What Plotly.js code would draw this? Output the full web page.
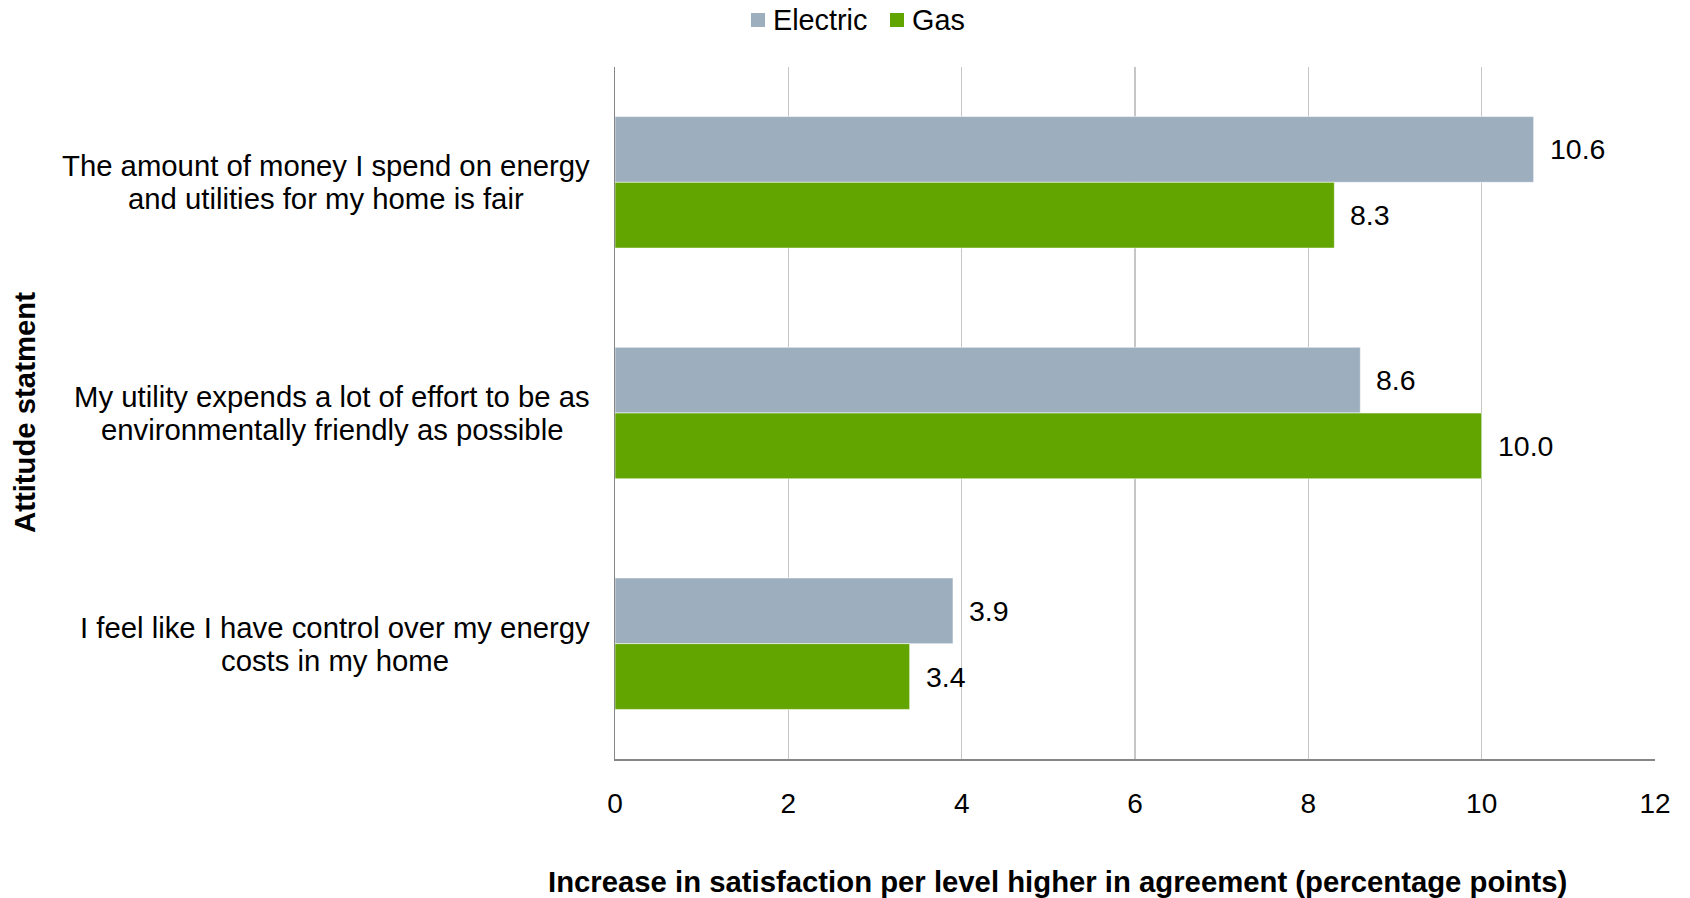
<!DOCTYPE html>
<html>
<head>
<meta charset="utf-8">
<script src="https://cdn.plot.ly/plotly-3.0.1.min.js"></script>
<style>
  html, body { margin: 0; padding: 0; background: #ffffff; }
  #chart { width: 1690px; height: 898px; }
</style>
</head>
<body>
<div id="chart"></div>
<script>
// Attitude statements (each shown on two centred lines)
const statements = [
  ["The amount of money I spend on energy", "and utilities for my home is fair"],
  ["My utility expends a lot of effort to be as", "environmentally friendly as possible"],
  ["I feel like I have control over my energy", "costs in my home"]
];
const seriesNames = ["Electric", "Gas"];
const electricValues = [10.6, 8.6, 3.9];
const gasValues = [8.3, 10.0, 3.4];
const xTickValues = [0, 2, 4, 6, 8, 10, 12];

const FONT = "Liberation Sans, Arial, sans-serif";
const BAR_GAP = 0.43;
const colors = { Electric: "#9dafbf", Gas: "#62a400" };

// plot area in pixels (margins) and a helper to turn pixel positions into paper fractions
const W = 1690, H = 898;
const M = { l: 615, r: 35, t: 67, b: 139 };
const px2paperX = p => (p - M.l) / (W - M.l - M.r);
const px2paperY = p => (H - M.b - p) / (H - M.t - M.b);

// text width measurement, used to centre each two-line label block
const measureCtx = document.createElement("canvas").getContext("2d");
function textWidth(str, size) {
  measureCtx.font = size + "px " + FONT;
  return measureCtx.measureText(str).width;
}

const categories = statements.map(s => s.join(" "));

const traces = [
  { name: seriesNames[0], values: electricValues },
  { name: seriesNames[1], values: gasValues }
].map(s => ({
  type: "bar",
  orientation: "h",
  name: s.name,
  x: s.values,
  y: categories,
  marker: { color: colors[s.name], line: { color: "rgba(255,255,255,0.55)", width: 1 } },
  hoverinfo: "x+name",
  showlegend: false
}));

const annotations = [];
const shapes = [];

// value labels to the right of each bar, centred on the bar within its group
const halfBar = (1 - BAR_GAP) / 4;
[electricValues, gasValues].forEach((vals, si) => {
  vals.forEach((v, ci) => {
    annotations.push({
      x: v, y: ci + (si === 0 ? -halfBar : halfBar),
      xref: "x", yref: "y",
      text: v.toFixed(1),
      showarrow: false, xanchor: "left", yanchor: "middle",
      xshift: 14,
      font: { family: FONT, size: 28.5, color: "#000000" }
    });
  });
});

// category labels: block right-aligned to the axis, lines centred within the block
const CAT_SIZE = 29.3;
const LINE_STEP = 33;
const LABEL_GAP = 25;
statements.forEach((lines, ci) => {
  const blockW = Math.max(...lines.map(l => textWidth(l, CAT_SIZE)));
  lines.forEach((line, li) => {
    annotations.push({
      x: 0, y: ci, xref: "paper", yref: "y",
      text: line,
      showarrow: false, xanchor: "center", yanchor: "middle", align: "center",
      xshift: -LABEL_GAP - blockW / 2,
      yshift: (li === 0 ? 1 : -1) * LINE_STEP / 2,
      font: { family: FONT, size: CAT_SIZE, color: "#000000" }
    });
  });
});

// axis titles
annotations.push({
  x: px2paperX(24), y: 0.5, xref: "paper", yref: "paper",
  text: "<b>Attitude statment</b>", textangle: -90,
  showarrow: false, xanchor: "center", yanchor: "middle",
  font: { family: FONT, size: 29.3, color: "#000000" }
});
annotations.push({
  x: px2paperX(1057), y: px2paperY(881), xref: "paper", yref: "paper",
  text: "<b>Increase in satisfaction per level higher in agreement (percentage points)</b>",
  showarrow: false, xanchor: "center", yanchor: "middle",
  font: { family: FONT, size: 29.3, color: "#000000" }
});

// legend: coloured squares with series names, centred above the plot
const legendItems = [
  { name: seriesNames[0], box: [751, 765], textX: 772 },
  { name: seriesNames[1], box: [890, 904], textX: 911 }
];
const LEGEND_Y = 20;
legendItems.forEach(it => {
  shapes.push({
    type: "rect", xref: "paper", yref: "paper",
    x0: px2paperX(it.box[0]), x1: px2paperX(it.box[1]),
    y0: px2paperY(LEGEND_Y + 7), y1: px2paperY(LEGEND_Y - 7),
    fillcolor: colors[it.name], line: { width: 0 }
  });
  annotations.push({
    x: px2paperX(it.textX), y: px2paperY(LEGEND_Y), xref: "paper", yref: "paper",
    text: it.name, showarrow: false, xanchor: "left", yanchor: "middle",
    borderpad: 0,
    font: { family: FONT, size: 28.8, color: "#000000" }
  });
});

const layout = {
  width: W, height: H,
  paper_bgcolor: "#ffffff", plot_bgcolor: "#ffffff",
  margin: { l: M.l, r: M.r, t: M.t, b: M.b, pad: 0 },
  barmode: "group", bargap: BAR_GAP, bargroupgap: 0,
  font: { family: FONT, size: 28, color: "#000000" },
  showlegend: false,
  xaxis: {
    range: [0, 12], tickvals: xTickValues, ticktext: xTickValues.map(String),
    showgrid: true, gridcolor: "#c6c6c6", gridwidth: 1.5,
    zeroline: false, showline: true, linecolor: "#868686", linewidth: 1.5,
    ticks: "", ticklabelstandoff: 19,
    tickfont: { family: FONT, size: 28, color: "#000000" }
  },
  yaxis: {
    type: "category", categoryorder: "array", categoryarray: categories,
    autorange: "reversed",
    showgrid: false, zeroline: false, showline: true, linecolor: "#868686", linewidth: 1.5,
    showticklabels: false, ticks: ""
  },
  shapes: shapes,
  annotations: annotations
};

Plotly.newPlot("chart", traces, layout, { displayModeBar: false, staticPlot: true });
</script>
</body>
</html>
